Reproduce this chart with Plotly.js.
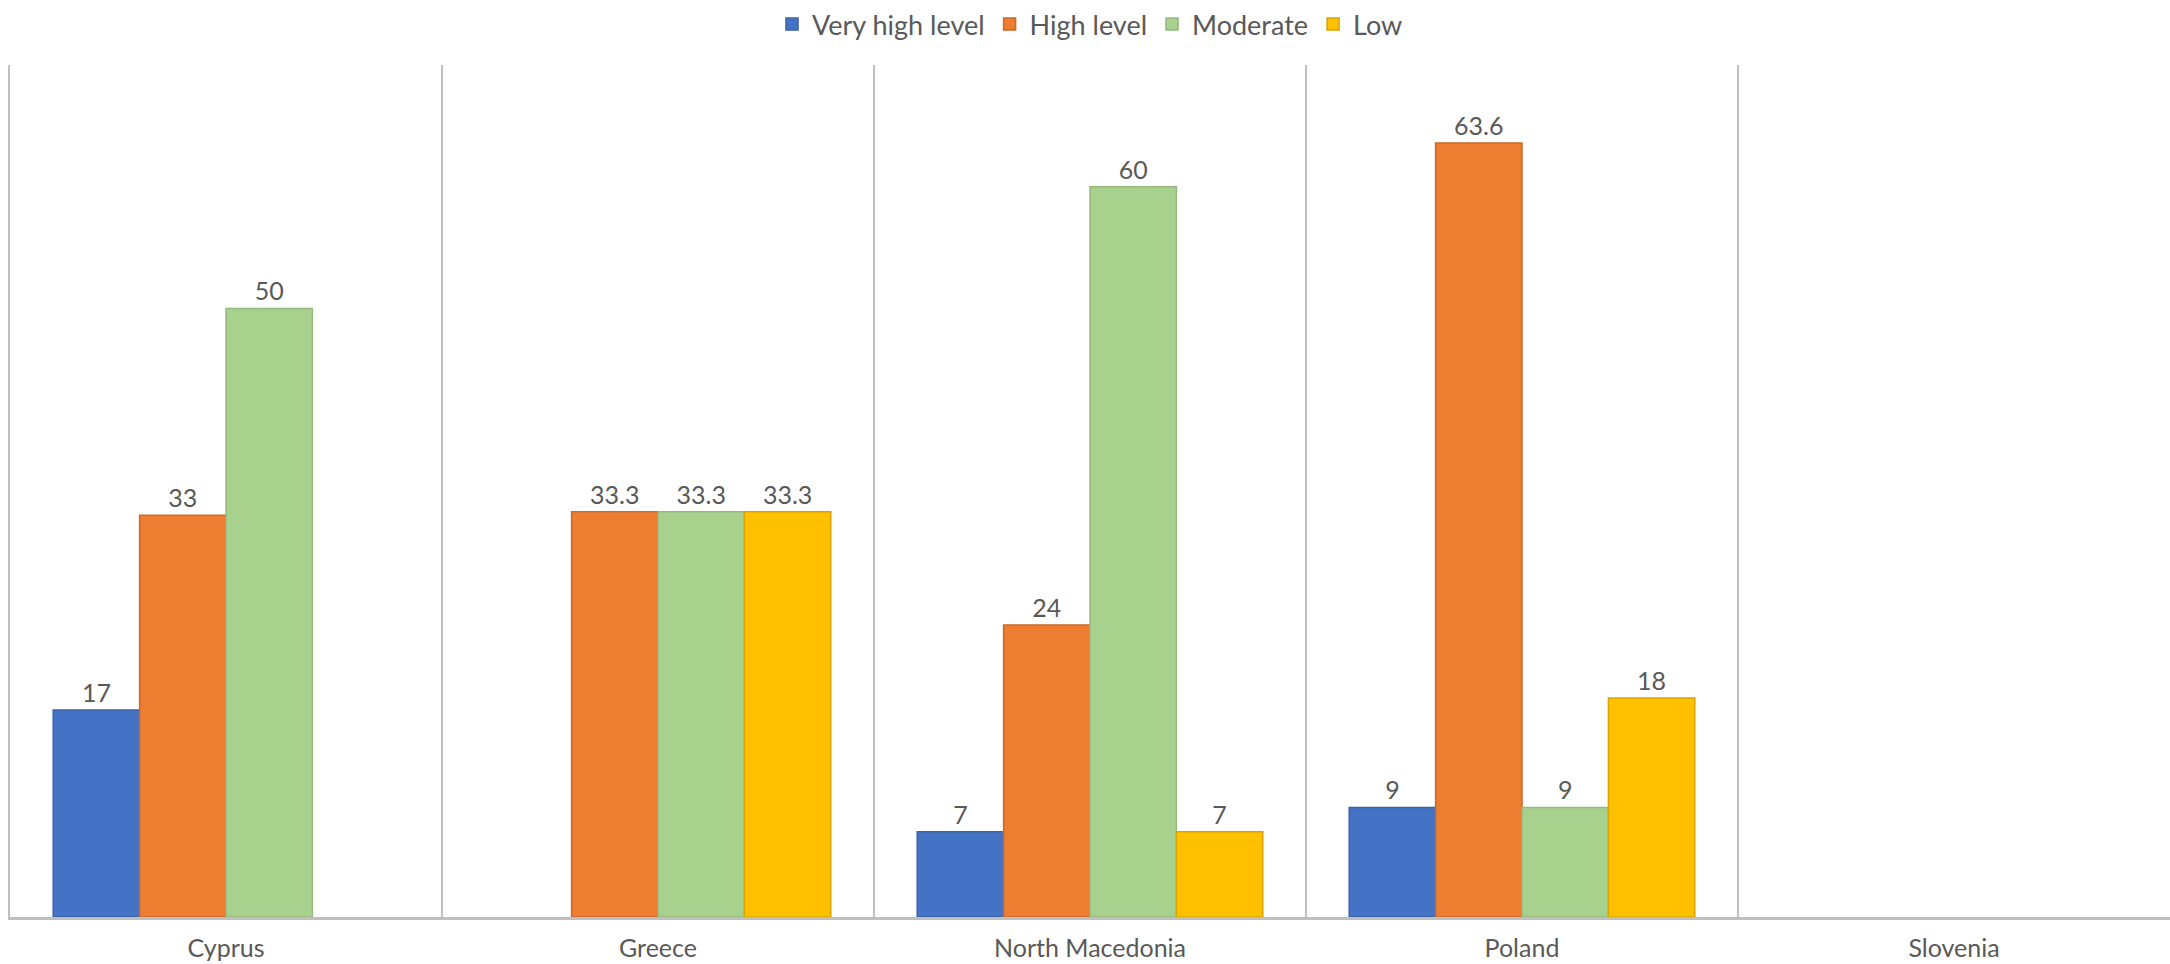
<!DOCTYPE html>
<html>
<head>
<meta charset="utf-8">
<script src="https://cdn.plot.ly/plotly-3.0.1.min.js"></script>
<style>html,body{margin:0;padding:0;background:#fff;}#chart{width:2170px;height:964px;}</style>
</head>
<body>
<div id="chart"></div>
<script>
const categories = ["Cyprus", "Greece", "North Macedonia", "Poland", "Slovenia"];
const seriesNames = ["Very high level", "High level", "Moderate", "Low"];
const veryHigh = [17, null, 7, 9, null];
const high = [33, 33.3, 24, 63.6, null];
const moderate = [50, 33.3, 60, 9, null];
const low = [null, 33.3, 7, 18, null];
const colors = ["#4472C4", "#ED7D31", "#A9D18E", "#FFC000"];
const outline = ["#3a62a8", "#c96a2a", "#95b87c", "#d9a400"];

const allSeries = [veryHigh, high, moderate, low];
const font = "Lato, 'Open Sans', sans-serif";

const traces = allSeries.map((vals, i) => ({
  type: "bar",
  name: seriesNames[i],
  x: categories,
  y: vals,
  text: vals.map(v => v === null ? "" : String(v)),
  textposition: "outside",
  cliponaxis: false,
  textfont: {family: font, size: 25, color: "#595959"},
  marker: {color: colors[i], line: {color: outline[i], width: 1.5}},
  hoverinfo: "x+y+name"
}));

const layout = {
  width: 2170,
  height: 964,
  margin: {l: 10, r: 0, t: 65, b: 47},
  paper_bgcolor: "#ffffff",
  plot_bgcolor: "#ffffff",
  barmode: "group",
  bargap: 0.2,
  bargroupgap: 0,
  showlegend: true,
  legend: {
    orientation: "h",
    x: 0.5, xanchor: "center",
    y: 1.0, yref: "container", yanchor: "top",
    font: {family: font, size: 27, color: "#595959"},
    itemwidth: 30,
    tracegroupgap: 0
  },
  xaxis: {
    type: "category",
    range: [-0.5, 4.5],
    tickson: "boundaries",
    ticks: "",
    showgrid: true,
    gridcolor: "#bfbfbf",
    gridwidth: 2.5,
    showline: true,
    linecolor: "#bfbfbf",
    linewidth: 3,
    tickfont: {family: font, size: 25, color: "#595959"},
    ticklabelstandoff: 7,
    zeroline: false,
    fixedrange: true
  },
  yaxis: {
    range: [0, 70],
    visible: true,
    showticklabels: false,
    ticks: "",
    showline: true,
    linecolor: "#bfbfbf",
    linewidth: 2.5,
    showgrid: false,
    zeroline: false,
    fixedrange: true
  }
};

Plotly.newPlot("chart", traces, layout, {displayModeBar: false, staticPlot: true});
</script>
</body>
</html>
